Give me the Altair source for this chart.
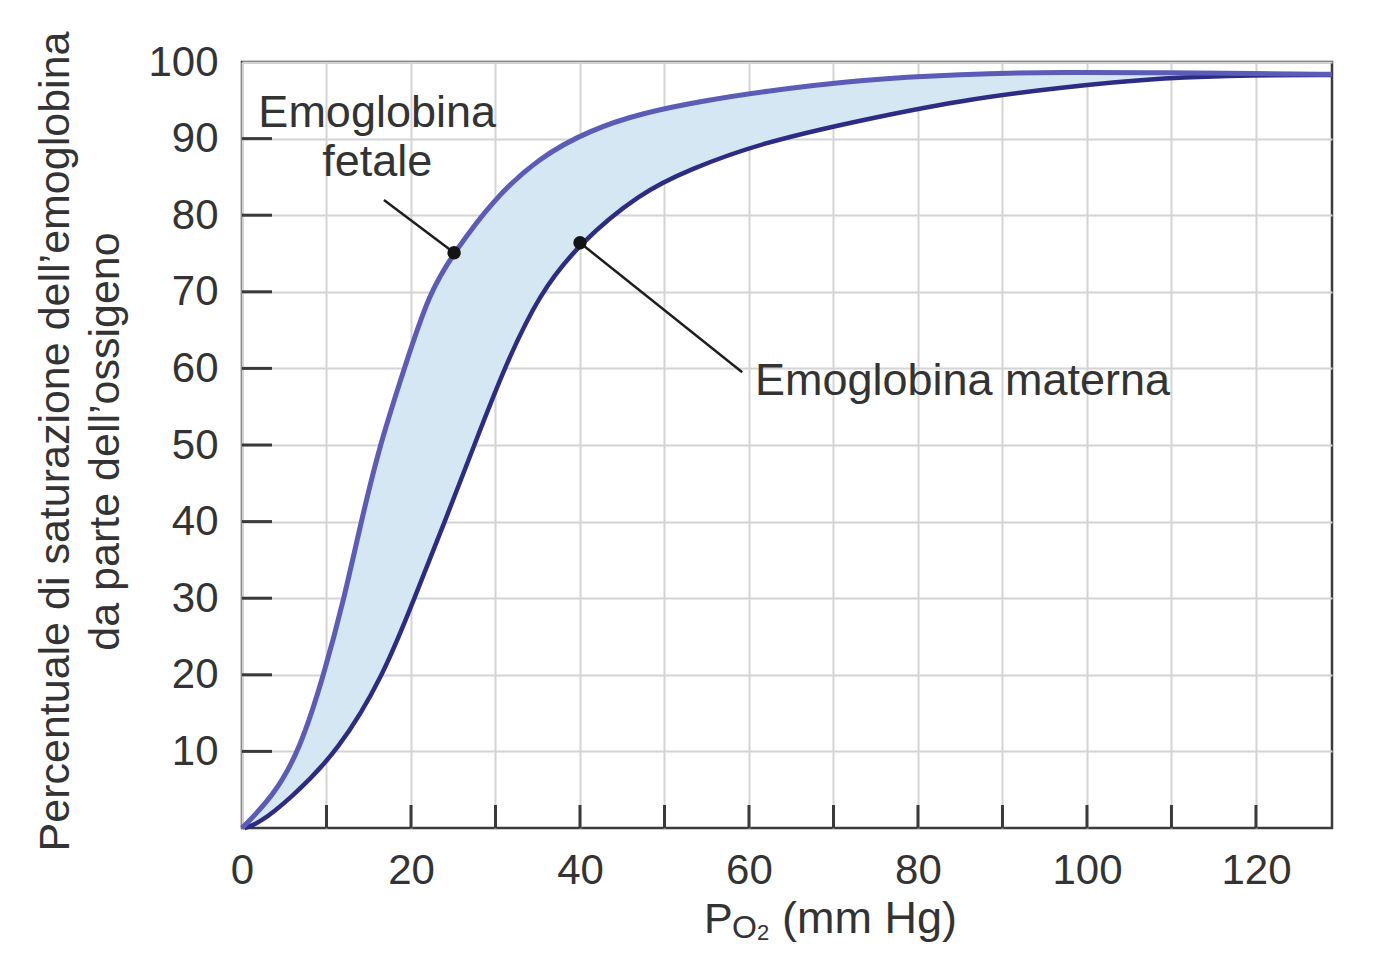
import altair as alt
import pandas as pd

# ---- data ----
po2_fetal = [0, 3.6, 6.8, 9.7, 12.1, 14.1, 16.3, 19.2, 22.2, 25.1, 29.7,
             35.2, 41.2, 47.1, 55.0, 61.3, 73.2, 85.0, 96.9, 110.0, 120.0, 129.0]
sat_fetal = [0, 4.0, 10.0, 20.0, 30.0, 40.0, 50.0, 60.0, 70.0, 75.1, 82.0,
             87.6, 91.1, 93.3, 95.0, 96.1, 97.7, 98.4, 98.7, 98.6, 98.5, 98.4]

po2_maternal = [0.3, 2.0, 5.6, 11.4, 16.8, 20.4, 24.0, 27.5, 31.0, 35.2,
                40.0, 47.1, 53.0, 61.3, 73.2, 85.0, 96.9, 109.6, 119.5, 129.0]
sat_maternal = [0, 0.6, 3.7, 10.0, 20.0, 30.0, 40.0, 50.0, 60.0, 69.8,
                76.4, 82.9, 86.0, 89.4, 92.4, 95.0, 96.7, 98.0, 98.3, 98.3]

# marked points and leader lines
dot_po2 = [25.1, 40.0]
dot_sat = [75.1, 76.4]
leader_end_po2 = [16.8, 59.2]
leader_end_sat = [82.0, 59.5]

# labels inside the plot
label_text = ["Emoglobina", "fetale"]
label_po2 = [16.0, 16.0]
label_sat = [93.4, 86.9]
maternal_text = ["Emoglobina materna"]
maternal_po2 = [60.7]
maternal_sat = [58.4]

x_tick_values = list(range(10, 130, 10))
y_tick_values = list(range(10, 100, 10))
x_axis_values = list(range(0, 130, 10))
y_axis_values = list(range(10, 101, 10))

y_title = ["Percentuale di saturazione dell\u2019emoglobina",
           "da parte dell\u2019ossigeno"]

# ---- tables ----
fetal = pd.DataFrame({"po2": po2_fetal, "sat": sat_fetal})
maternal = pd.DataFrame({"po2": po2_maternal, "sat": sat_maternal})
band = pd.concat([
    fetal.assign(ord=range(len(fetal))),
    maternal.iloc[::-1].reset_index(drop=True).assign(
        ord=range(len(fetal), len(fetal) + len(maternal))),
], ignore_index=True)
dots = pd.DataFrame({"po2": dot_po2, "sat": dot_sat,
                     "po2_2": leader_end_po2, "sat_2": leader_end_sat})
labels = pd.DataFrame({"po2": label_po2, "sat": label_sat, "t": label_text})
mlabel = pd.DataFrame({"po2": maternal_po2, "sat": maternal_sat, "t": maternal_text})
xticks = pd.DataFrame({"po2": x_tick_values})
yticks = pd.DataFrame({"sat": y_tick_values})

FONT = "Liberation Sans"
TXT = "#333333"
GRID = "#d4d4d4"

xs = alt.Scale(domain=[0, 129], nice=False, zero=False)
ys = alt.Scale(domain=[0, 100], nice=False)

x_axis = alt.Axis(values=x_axis_values,
                  labelExpr="datum.value % 20 == 0 ? datum.label : ''",
                  grid=True, gridColor=GRID, gridWidth=2,
                  ticks=False, domain=False,
                  labelFont=FONT, labelFontSize=42, labelColor=TXT,
                  labelPadding=22, labelFlush=False, labelOverlap=False,
                  title=None, zindex=0)
y_axis = alt.Axis(values=y_axis_values,
                  grid=True, gridColor=GRID, gridWidth=2,
                  ticks=False, domain=False,
                  labelFont=FONT, labelFontSize=42, labelColor=TXT,
                  labelPadding=24, labelOverlap=False,
                  title=y_title, titleFont=FONT, titleFontSize=43,
                  titleFontWeight="normal", titleColor=TXT,
                  titleLineHeight=50, titleAngle=270,
                  titleAlign="center", titleBaseline="alphabetic",
                  titleX=-174, titleY=379, zindex=0)

X = alt.X("po2:Q", scale=xs, axis=x_axis)
Y = alt.Y("sat:Q", scale=ys, axis=y_axis)

band_layer = alt.Chart(band).mark_line(
    fill="#d5e7f2", strokeWidth=0, interpolate="basis"
).encode(x=X, y=Y, order="ord:Q")

maternal_line = alt.Chart(maternal).mark_line(
    color="#2c2c84", strokeWidth=4.5, interpolate="basis"
).encode(x=X, y=Y)

fetal_line = alt.Chart(fetal).mark_line(
    color="#5b5bb8", strokeWidth=5, interpolate="basis"
).encode(x=X, y=Y)

leaders = alt.Chart(dots).mark_rule(color="#1e1e1e", strokeWidth=2.5).encode(
    x=X, y=Y, x2="po2_2:Q", y2="sat_2:Q")

dot_layer = alt.Chart(dots).mark_point(
    filled=True, color="#141414", opacity=1, size=180
).encode(x=X, y=Y)

label_layer = alt.Chart(labels).mark_text(
    font=FONT, fontSize=45, color=TXT, align="center", baseline="middle"
).encode(x=X, y=Y, text="t:N")

mlabel_layer = alt.Chart(mlabel).mark_text(
    font=FONT, fontSize=45, color=TXT, align="left", baseline="middle"
).encode(x=X, y=Y, text="t:N")

xtick_layer = alt.Chart(xticks).mark_rule(color="#3a3a3a", strokeWidth=3).encode(
    x=X, y=alt.value(766), y2=alt.value(743))

ytick_layer = alt.Chart(yticks).mark_rule(color="#3a3a3a", strokeWidth=3).encode(
    y=Y, x=alt.value(0), x2=alt.value(30))

# x-axis title: P with subscript O2, then (mm Hg)
title_df = pd.DataFrame({"a": [0]})
tP = alt.Chart(title_df).mark_text(font=FONT, fontSize=43, color=TXT,
                                   align="left", baseline="alphabetic",
                                   text="P").encode(x=alt.value(462), y=alt.value(871))
tO = alt.Chart(title_df).mark_text(font=FONT, fontSize=32, color=TXT,
                                   align="left", baseline="alphabetic",
                                   text="O").encode(x=alt.value(490), y=alt.value(876))
t2 = alt.Chart(title_df).mark_text(font=FONT, fontSize=22, color=TXT,
                                   align="left", baseline="alphabetic",
                                   text="2").encode(x=alt.value(515), y=alt.value(878))
tU = alt.Chart(title_df).mark_text(font=FONT, fontSize=45, color=TXT,
                                   align="left", baseline="alphabetic",
                                   text="(mm Hg)").encode(x=alt.value(540), y=alt.value(871))

chart = alt.layer(
    band_layer, maternal_line, fetal_line, leaders, dot_layer,
    label_layer, mlabel_layer, xtick_layer, ytick_layer, tP, tO, t2, tU
).properties(
    width=1090, height=766,
    padding={"left": 234, "top": 54, "right": 40, "bottom": 119},
    autosize=alt.AutoSizeParams(type="none"),
    background="white",
).configure_view(
    stroke="#3c3c3c", strokeWidth=2.5, fill="white"
)

chart.save("out.html", embed_options={"renderer": "svg", "actions": False})
